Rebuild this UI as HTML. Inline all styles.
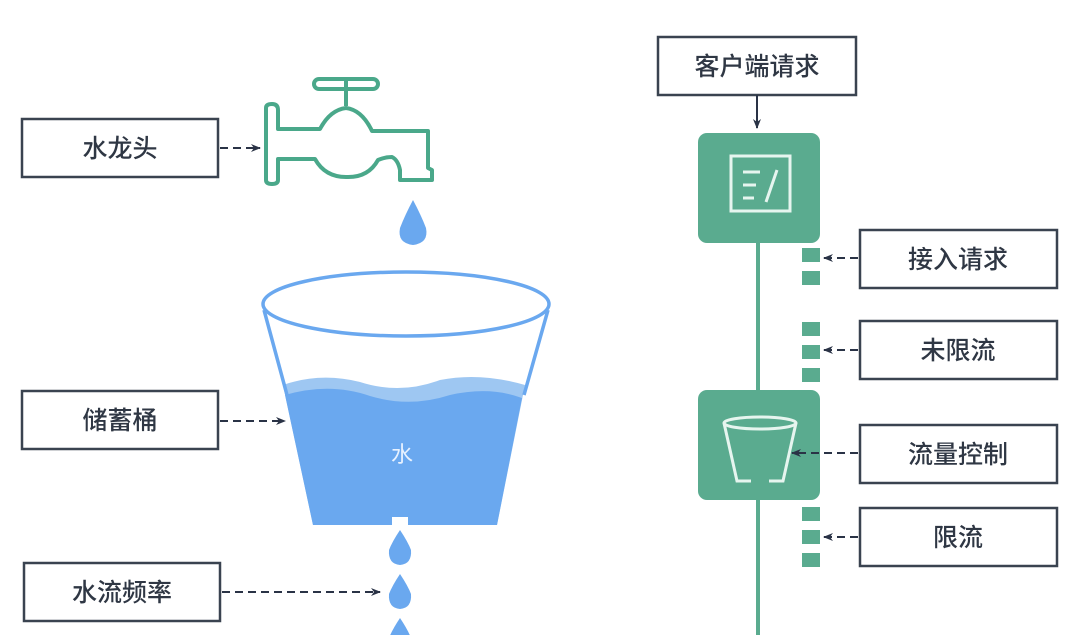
<!DOCTYPE html>
<html><head><meta charset="utf-8"><style>
html,body{margin:0;padding:0;background:#fff;}
svg{display:block;}
text{font-family:"Liberation Sans","Noto Sans CJK SC",sans-serif;}
</style></head><body>
<svg width="1080" height="635" viewBox="0 0 1080 635" xmlns="http://www.w3.org/2000/svg">
<defs>
<marker id="ar" markerWidth="10" markerHeight="8" refX="9" refY="4" orient="auto" markerUnits="userSpaceOnUse">
<path d="M0,0 L10,4 L0,8 L3,4 Z" fill="#2a3346"/></marker>
</defs>
<g fill="none" stroke="#3a4350" stroke-width="2.5">
<rect x="22" y="119" width="196" height="58"/>
<rect x="22" y="391" width="196" height="58"/>
<rect x="24" y="563" width="196" height="58"/>
<rect x="658" y="37" width="198" height="58"/>
<rect x="860" y="230" width="197" height="58"/>
<rect x="860" y="321" width="197" height="58"/>
<rect x="860" y="425" width="197" height="58"/>
<rect x="860" y="508" width="197" height="58"/>
</g>
<g font-size="25" fill="#2f3744" text-anchor="middle" font-weight="500">
<text x="120" y="157">水龙头</text>
<text x="120" y="429">储蓄桶</text>
<text x="122" y="601">水流频率</text>
<text x="757" y="75">客户端请求</text>
<text x="958" y="268">接入请求</text>
<text x="958" y="359">未限流</text>
<text x="958" y="463">流量控制</text>
<text x="958" y="546">限流</text>
</g>
<!-- faucet -->
<g fill="none" stroke="#4aa88a" stroke-width="4" stroke-linejoin="round">
<rect x="314" y="79" width="64" height="10" rx="5"/>
<line x1="346" y1="78" x2="346" y2="106"/>
<path d="M266,108 Q266,104 272,104 Q278,104 278,110 L278,129 L320,129 Q330,110 346,108 Q362,110 372,131 L428,131 L428,168 L432,170 L432,180 L400,180 L400,170 Q398,160 392,157 Q385,157 378,160 Q368,178 346,177 Q325,177 315,159 L278,159 L278,180 Q278,184 272,184 Q266,184 266,180 Z"/>
</g>
<path d="M413,200 Q405,215 400,228 Q397,243 413,245 Q429,243 426,228 Q421,215 413,200 Z" fill="#6aa8ef"/>
<!-- bucket -->
<path d="M283,385 Q320,372 360,382 Q400,395 440,380 Q480,372 525,385 L497,525 L408,525 L408,517 L392,517 L392,525 L313,525 Z" fill="#9ec7f2"/>
<path d="M285,395 Q330,382 370,396 Q410,408 450,395 Q490,386 522,398 L497,525 L408,525 L408,517 L392,517 L392,525 L313,525 Z" fill="#6aa8ef"/>
<g fill="none" stroke="#6aa8ef" stroke-width="3.5">
<ellipse cx="406" cy="304" rx="143" ry="32"/>
<line x1="264" y1="310" x2="287" y2="395"/>
<line x1="548" y1="310" x2="524" y2="395"/>
</g>
<text x="402" y="462" font-size="22" fill="#e8f2ff" text-anchor="middle">水</text>
<g fill="#6aa8ef">
<path d="M400,530 Q392,542 389,550 Q388,564 400,565 Q412,564 411,550 Q408,542 400,530 Z"/>
<path d="M400,574 Q392,586 389,594 Q388,608 400,609 Q412,608 411,594 Q408,586 400,574 Z"/>
<path d="M400,618 Q392,630 389,638 L411,638 Q408,630 400,618 Z"/>
</g>
<!-- right pipeline -->
<line x1="758" y1="240" x2="758" y2="635" stroke="#5aab8f" stroke-width="4"/>
<rect x="698" y="133" width="122" height="110" rx="9" fill="#5aab8f"/>
<rect x="698" y="390" width="122" height="110" rx="9" fill="#5aab8f"/>
<g fill="none" stroke="#e6f5ef" stroke-width="3">
<rect x="731" y="156" width="59" height="55"/>
<line x1="743" y1="172" x2="760" y2="172"/>
<line x1="743" y1="185" x2="756" y2="185"/>
<line x1="743" y1="198" x2="754" y2="198"/>
<line x1="777" y1="170" x2="766" y2="202"/>
<ellipse cx="760" cy="423" rx="36" ry="6"/>
<path d="M724,423 L737,481 L751,481 M769,481 L783,481 L796,423"/>
</g>
<g fill="#5aab8f">
<rect x="802" y="248" width="18" height="14"/>
<rect x="802" y="271" width="18" height="14"/>
<rect x="802" y="322" width="18" height="14"/>
<rect x="802" y="345" width="18" height="14"/>
<rect x="802" y="368" width="18" height="14"/>
<rect x="802" y="507" width="18" height="14"/>
<rect x="802" y="530" width="18" height="14"/>
<rect x="802" y="553" width="18" height="14"/>
</g>
<g stroke="#2a3346" stroke-width="2" stroke-dasharray="8,5" fill="none" marker-end="url(#ar)">
<line x1="220" y1="148" x2="260" y2="148"/>
<line x1="220" y1="421" x2="285" y2="421"/>
<line x1="222" y1="592" x2="380" y2="592"/>
<line x1="858" y1="258" x2="824" y2="258"/>
<line x1="858" y1="350" x2="824" y2="350"/>
<line x1="858" y1="453" x2="792" y2="453"/>
<line x1="858" y1="537" x2="824" y2="537"/>
</g>
<line x1="757" y1="95" x2="757" y2="128" stroke="#2a3346" stroke-width="2" marker-end="url(#ar)"/>
</svg>
</body></html>
